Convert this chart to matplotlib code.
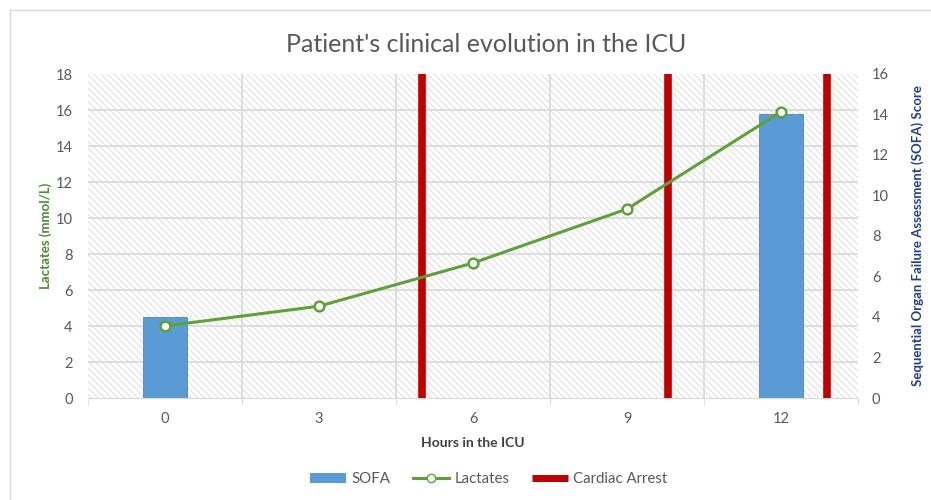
import matplotlib.pyplot as plt
from matplotlib.lines import Line2D
from matplotlib.patches import Patch, Rectangle

plt.rcParams['font.family'] = ['Lato', 'DejaVu Sans']
plt.rcParams['hatch.color'] = '#d0d0d0'
plt.rcParams['hatch.linewidth'] = 0.6

hours = ["0", "3", "6", "9", "12"]
lactates = [4.0, 5.1, 7.5, 10.5, 15.9]
sofa = [4, None, None, None, 14]
# cardiac arrest times in hours
arrests = [5.0, 9.8, 12.9]

fig = plt.figure(figsize=(9.31, 5.0), dpi=100)
ax = fig.add_axes([88 / 931, 1 - 398 / 500, 770 / 931, 324 / 500])
ax2 = ax.twinx()

x = list(range(len(hours)))

# ax2 sits behind ax: background, grid and bars go there
ax.set_zorder(ax2.get_zorder() + 1)
ax.patch.set_visible(False)
ax2.set_facecolor('white')
ax2.add_patch(Rectangle((0, 0), 1, 1, transform=ax2.transAxes, facecolor='white',
                        edgecolor='#d8d8d8', hatch='\\\\\\\\\\', lw=0, zorder=0))
for v in range(2, 18, 2):
    ax2.plot([-0.5, 4.5], [v, v], transform=ax.transData, color='#d9d9d9', lw=1.2, zorder=1)
for b in [0.5, 1.5, 2.5, 3.5]:
    ax2.axvline(b, color='#d9d9d9', lw=1.2, zorder=1)

# SOFA bars on right axis
sx = [i for i, v in enumerate(sofa) if v is not None]
sv = [v for v in sofa if v is not None]
ax2.bar(sx, sv, width=0.29, color='#5b9bd5', edgecolor='#4a87c0', lw=0.6, zorder=2)

# cardiac arrests
for a in arrests:
    ax.axvline(a / 3, color='#c00000', lw=5.5, zorder=3)

ax.plot(x, lactates, color='#5fa03a', lw=2.2, marker='o', ms=7,
        mfc='white', mec='#5fa03a', mew=1.8, zorder=4)

ax.set_xlim(-0.5, 4.5)
ax.set_ylim(0, 18)
ax.set_yticks(range(0, 19, 2))
ax2.set_ylim(0, 16)
ax2.set_yticks(range(0, 17, 2))

ax.set_xticks(x)
ax.set_xticklabels(hours)
ax.set_xticks([-0.5, 0.5, 1.5, 2.5, 3.5, 4.5], minor=True)
ax.tick_params(axis='x', which='major', length=0, pad=10, labelsize=10.5, colors='#595959')
ax.tick_params(axis='x', which='minor', length=5, color='#d9d9d9')
ax.tick_params(axis='y', length=0, pad=11, labelsize=10.5, colors='#595959')
ax2.tick_params(axis='y', length=0, pad=10, labelsize=10.5, colors='#595959')

for a_ in (ax, ax2):
    for s in a_.spines.values():
        s.set_visible(False)
ax.spines['bottom'].set_visible(True)
ax.spines['bottom'].set_color('#d9d9d9')

ax.set_ylabel("Lactates (mmol/L)", color='#4e8a2c', fontweight='bold', fontsize=9.5, labelpad=3)
ax2.set_ylabel("Sequential Organ Failure Assessment (SOFA) Score", color='#1f3f8f',
               fontweight='bold', fontsize=9.5, labelpad=16)
ax.set_xlabel("Hours in the ICU", color='#404040', fontweight='bold', fontsize=10, labelpad=8)

fig.text(0.522, 1 - 45 / 500, "Patient's clinical evolution in the ICU", ha='center', va='center',
         fontsize=18, color='#595959')

handles = [Patch(facecolor='#5b9bd5'),
           Line2D([], [], color='#5fa03a', lw=2.2, marker='o', ms=6, mfc='white', mec='#5fa03a'),
           Line2D([], [], color='#c00000', lw=5, solid_capstyle='butt')]
fig.legend(handles, ["SOFA", "Lactates", "Cardiac Arrest"], loc='center',
           bbox_to_anchor=(0.525, 1 - 479 / 500), ncol=3, frameon=False, fontsize=10.8,
           labelcolor='#595959', handlelength=2.4, handletextpad=0.35, columnspacing=1.5)

# outer chart border
fig.add_artist(Line2D([10 / 931, 10 / 931], [0, 1 - 10 / 500], color='#d9d9d9', lw=1))
fig.add_artist(Line2D([10 / 931, 1], [1 - 10 / 500, 1 - 10 / 500], color='#d9d9d9', lw=1))

fig.savefig("out.png", dpi=100)
